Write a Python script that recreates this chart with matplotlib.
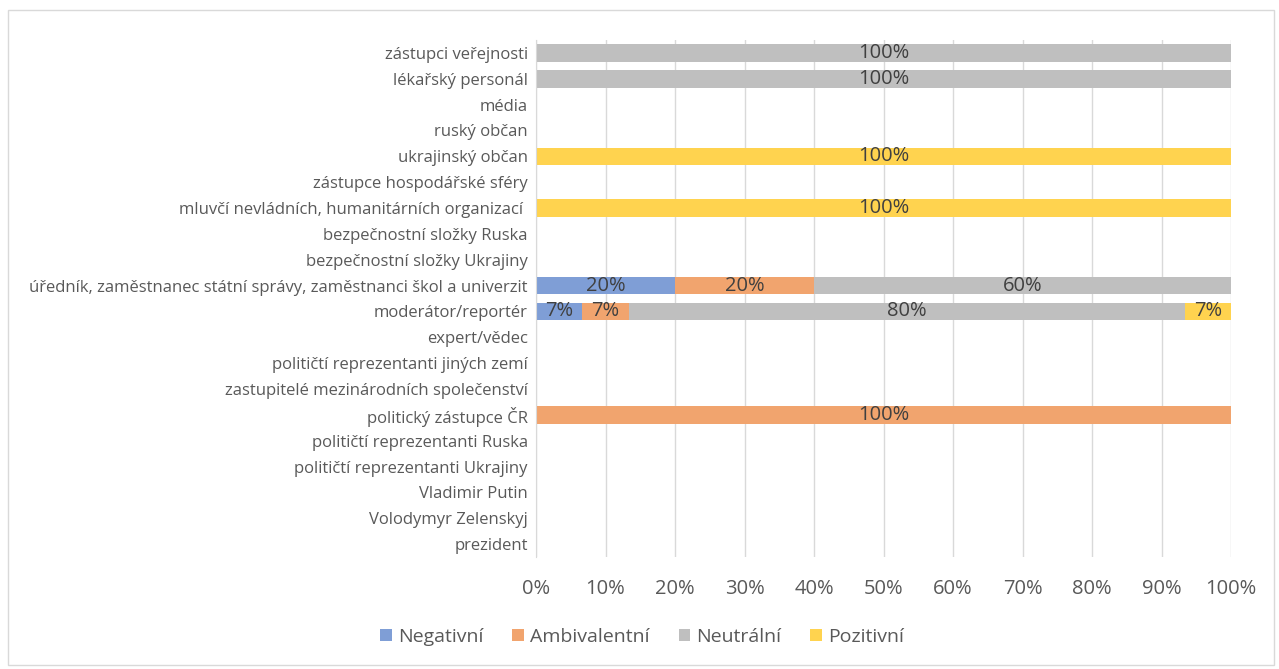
import matplotlib.pyplot as plt
import numpy as np
from matplotlib.patches import Rectangle

plt.rcParams["font.family"] = ["Open Sans", "DejaVu Sans"]

# categories listed from the bottom row to the top row
categories = [
    "prezident",
    "Volodymyr Zelenskyj",
    "Vladimir Putin",
    "političtí reprezentanti Ukrajiny",
    "političtí reprezentanti Ruska",
    "politický zástupce ČR",
    "zastupitelé mezinárodních společenství",
    "političtí reprezentanti jiných zemí",
    "expert/vědec",
    "moderátor/reportér",
    "úředník, zaměstnanec státní správy, zaměstnanci škol a univerzit",
    "bezpečnostní složky Ukrajiny",
    "bezpečnostní složky Ruska",
    "mluvčí nevládních, humanitárních organizací ",
    "zástupce hospodářské sféry",
    "ukrajinský občan",
    "ruský občan",
    "média",
    "lékařský personál",
    "zástupci veřejnosti",
]

series = ["Negativní", "Ambivalentní", "Neutrální", "Pozitivní"]
colors = ["#7f9ed6", "#f1a46e", "#bfbfbf", "#ffd34f"]

# mention counts per category (same order as categories)
negative = [0, 0, 0, 0, 0, 0, 0, 0, 0, 1, 1, 0, 0, 0, 0, 0, 0, 0, 0, 0]
ambivalent = [0, 0, 0, 0, 0, 1, 0, 0, 0, 1, 1, 0, 0, 0, 0, 0, 0, 0, 0, 0]
neutral = [0, 0, 0, 0, 0, 0, 0, 0, 0, 12, 3, 0, 0, 0, 0, 0, 0, 0, 1, 1]
positive = [0, 0, 0, 0, 0, 0, 0, 0, 0, 1, 0, 0, 0, 1, 0, 1, 0, 0, 0, 0]

counts = np.array([negative, ambivalent, neutral, positive], dtype=float)
totals = counts.sum(axis=0)
shares = np.divide(counts, totals, out=np.zeros_like(counts), where=totals > 0)

fig = plt.figure(figsize=(12.79, 6.69), dpi=100)
ax = fig.add_axes([536 / 1279, 1 - 557 / 669, (1231 - 536) / 1279, (557 - 40) / 669])

y = np.arange(len(categories))
left = np.zeros(len(categories))
for share, name, color in zip(shares, series, colors):
    bars = ax.barh(y, share, left=left, height=0.68, color=color, label=name, zorder=2)
    for rect, value in zip(bars, share):
        if value > 0:
            ax.text(rect.get_x() + rect.get_width() / 2, rect.get_y() + rect.get_height() / 2,
                    f"{value * 100:.0f}%", ha="center", va="center",
                    fontsize=14.5, color="#404040", zorder=3)
    left += share

ax.set_xlim(0, 1)
ax.set_ylim(-0.5, len(categories) - 0.5)
ax.set_xticks(np.linspace(0, 1, 11))
ax.set_xticklabels([f"{p}%" for p in range(0, 101, 10)])
ax.set_yticks(y)
ax.set_yticklabels(categories)
ax.tick_params(axis="x", length=0, pad=16, labelsize=14.5, labelcolor="#595959")
ax.tick_params(axis="y", length=0, pad=6, labelsize=12, labelcolor="#595959")
ax.grid(axis="x", color="#d9d9d9", linewidth=1, zorder=0)
for side in ["top", "right", "bottom"]:
    ax.spines[side].set_visible(False)
ax.spines["left"].set_color("#d9d9d9")

fig.legend(loc="center", bbox_to_anchor=(642 / 1279, 1 - 637 / 669), ncol=4,
           frameon=False, fontsize=14, handlelength=0.6, handleheight=0.6,
           handletextpad=0.3, columnspacing=1.5, labelcolor="#595959")

fig.patches.append(Rectangle((8 / 1279, 4 / 669), 1266 / 1279, 655 / 669,
                             transform=fig.transFigure, fill=False,
                             edgecolor="#d9d9d9", linewidth=1))

fig.savefig("out.png", dpi=100)
